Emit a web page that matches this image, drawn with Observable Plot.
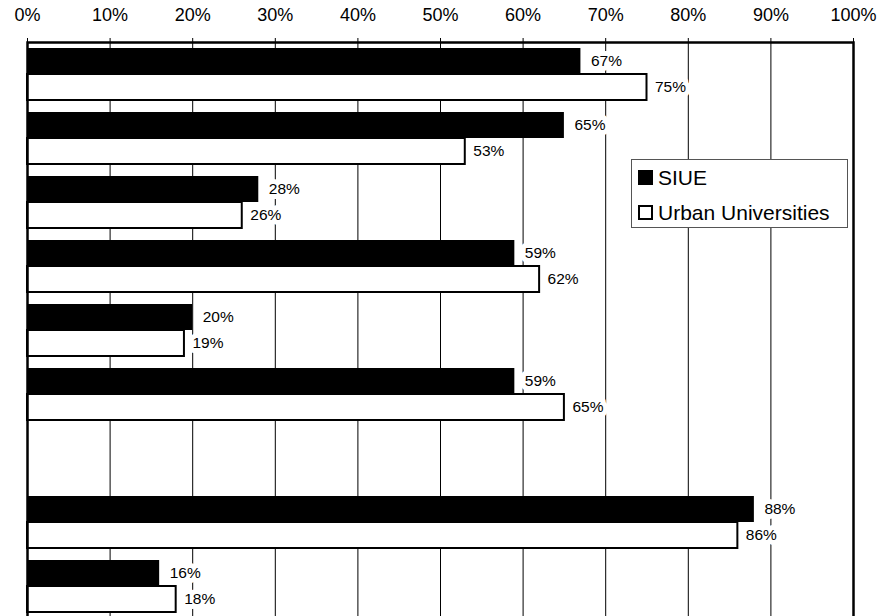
<!DOCTYPE html>
<html>
<head>
<meta charset="utf-8">
<script src="https://cdn.jsdelivr.net/npm/d3@7"></script>
<script src="https://cdn.jsdelivr.net/npm/@observablehq/plot@0.6"></script>
<style>
  html, body { margin: 0; padding: 0; background: #fff; overflow: hidden; }
  #wrap { position: relative; width: 893px; height: 616px; font-family: Arial, "Liberation Sans", sans-serif; }
  #legend { position: absolute; left: 631px; top: 159px; width: 217px; height: 69px; border: 1px solid #555; background: #fff; box-sizing: border-box; }
  .item { position: absolute; left: 6px; display: flex; align-items: center; font-size: 21px; color: #000; line-height: 1; }
  .sw { width: 15px; height: 15px; box-sizing: border-box; margin-right: 5px; }
</style>
</head>
<body>
<div id="wrap"></div>
<script>
// Categories (the reference shows no category names; one slot is empty)
const groups = ["G1", "G2", "G3", "G4", "G5", "G6", "blank", "G7", "G8"];
const seriesNames = ["SIUE", "Urban Universities"];
const siueValues  = [67, 65, 28, 59, 20, 59, null, 88, 16];
const urbanValues = [75, 53, 26, 62, 19, 65, null, 86, 18];
const xTicks = [0, 10, 20, 30, 40, 50, 60, 70, 80, 90, 100];

const rows = [];
groups.forEach((g, i) => {
  if (siueValues[i] != null) rows.push({group: g, series: seriesNames[0], value: siueValues[i]});
  if (urbanValues[i] != null) rows.push({group: g, series: seriesNames[1], value: urbanValues[i]});
});
const siue = rows.filter(d => d.series === seriesNames[0]);
const urban = rows.filter(d => d.series === seriesNames[1]);

const chart = Plot.plot({
  width: 893,
  height: 620,
  marginTop: 42,
  marginBottom: 2,
  marginLeft: 27,
  marginRight: 40,
  style: {fontFamily: "Arial, 'Liberation Sans', sans-serif", fontSize: "18px", color: "#000", background: "#fff"},
  x: {
    domain: [0, 100],
    axis: "top",
    ticks: xTicks,
    tickFormat: d => d + "%",
    tickSize: 5,
    tickPadding: 17,
    label: null
  },
  y: {
    type: "band",
    domain: groups,
    paddingInner: 0.1875,
    paddingOuter: 0.09375,
    axis: null,
    label: null
  },
  marks: [
    Plot.ruleX(xTicks.filter(t => t > 0 && t < 100), {stroke: "#000", strokeWidth: 1}),
    Plot.barX(siue, {x: "value", y: "group", fill: "#000", insetBottom: 26}),
    Plot.barX(urban, {x: "value", y: "group", fill: "#fff", stroke: "#000", strokeWidth: 2, insetTop: 26}),
    Plot.text(siue, {x: "value", y: "group", text: d => d.value + "%", dx: 10, dy: -13, textAnchor: "start", fontSize: 15.5, fill: "#000", stroke: "#fff", strokeWidth: 10}),
    Plot.text(urban, {x: "value", y: "group", text: d => d.value + "%", dx: 8, dy: 13, textAnchor: "start", fontSize: 15.5, fill: "#000", stroke: "#fff", strokeWidth: 10}),
    Plot.frame({stroke: "#000", strokeWidth: 2.5})
  ]
});

const wrap = document.getElementById("wrap");
wrap.appendChild(chart);

const legend = document.createElement("div");
legend.id = "legend";
legend.innerHTML =
  '<div class="item" style="top:7px"><div class="sw" style="background:#000"></div>' + seriesNames[0] + '</div>' +
  '<div class="item" style="top:42px"><div class="sw" style="background:#fff;border:2px solid #000"></div>' + seriesNames[1] + '</div>';
wrap.appendChild(legend);
</script>
</body>
</html>
